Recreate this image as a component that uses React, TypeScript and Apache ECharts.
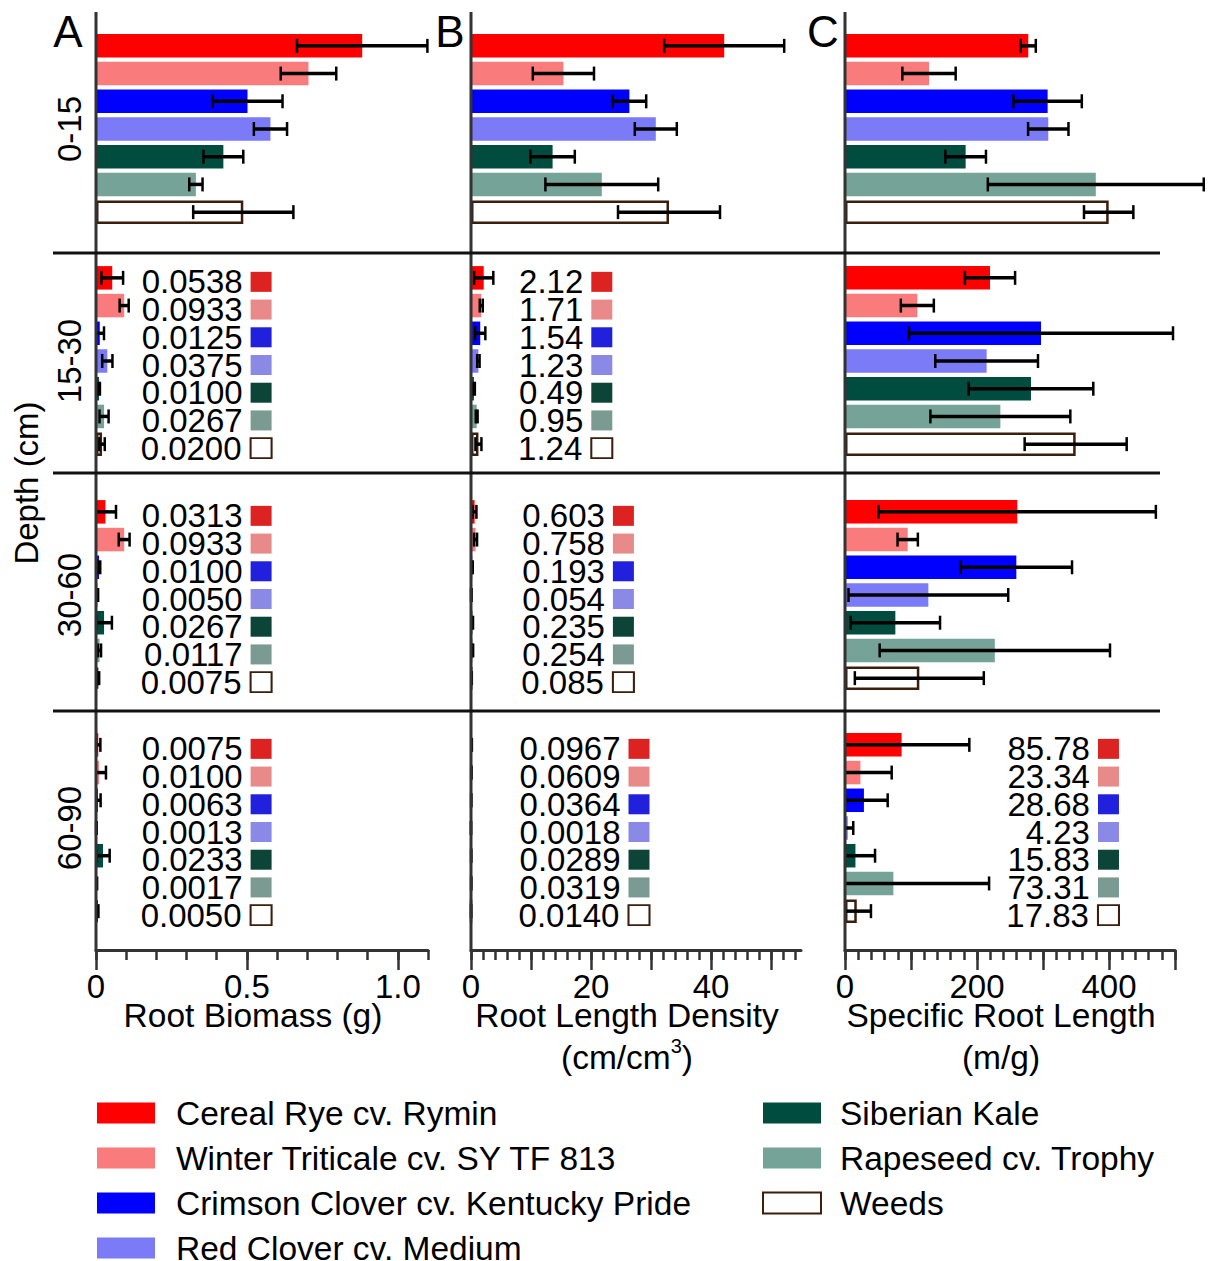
import React, { useEffect, useRef } from "react";
import * as echarts from "echarts";

const FONT = "'Liberation Sans', Arial, Helvetica, sans-serif";

// ---- categories ----
const crops = [
  "Cereal Rye cv. Rymin",
  "Winter Triticale cv. SY TF 813",
  "Crimson Clover cv. Kentucky Pride",
  "Red Clover cv. Medium",
  "Siberian Kale",
  "Rapeseed cv. Trophy",
  "Weeds",
];
const depths = ["0-15", "15-30", "30-60", "60-90"];

// ---- colours ----
const barColors = ["#ff0000", "#fa7b7b", "#0000ff", "#7b7bf8", "#004c3f", "#75a397", "#ffffff"];
const swatchColors = ["#dd2222", "#e88a8a", "#2020dd", "#8a8ae6", "#0c4538", "#7b9a91", "#ffffff"];
const weedsBorder = "#3b1e0c";

// ---- A: Root Biomass (g), mean and SE ----
const rb_0_15 = [0.882, 0.704, 0.502, 0.578, 0.422, 0.331, 0.488];
const rb_0_15_se = [0.216, 0.092, 0.116, 0.055, 0.066, 0.022, 0.166];
const rb_15_30 = [0.0538, 0.0933, 0.0125, 0.0375, 0.01, 0.0267, 0.02];
const rb_15_30_se = [0.036, 0.015, 0.014, 0.017, 0.003, 0.015, 0.009];
const rb_30_60 = [0.0313, 0.0933, 0.01, 0.005, 0.0267, 0.0117, 0.0075];
const rb_30_60_se = [0.035, 0.018, 0.004, 0.002, 0.026, 0.005, 0.003];
const rb_60_90 = [0.0075, 0.01, 0.0063, 0.0013, 0.0233, 0.0017, 0.005];
const rb_60_90_se = [0.007, 0.023, 0.009, 0.001, 0.022, 0.002, 0.003];

// ---- B: Root Length Density (cm/cm3) ----
const rld_0_15 = [42.2, 15.4, 26.4, 30.8, 13.6, 21.8, 33.0];
const rld_0_15_se = [10.0, 5.1, 2.8, 3.5, 3.7, 9.4, 8.5];
const rld_15_30 = [2.12, 1.71, 1.54, 1.23, 0.49, 0.95, 1.24];
const rld_15_30_se = [1.6, 0.25, 0.85, 0.2, 0.15, 0.15, 0.5];
const rld_30_60 = [0.603, 0.758, 0.193, 0.054, 0.235, 0.254, 0.085];
const rld_30_60_se = [0.3, 0.25, 0.1, 0.05, 0.1, 0.1, 0.05];
const rld_60_90 = [0.0967, 0.0609, 0.0364, 0.0018, 0.0289, 0.0319, 0.014];
const rld_60_90_se = [0.05, 0.03, 0.02, 0.001, 0.02, 0.02, 0.01];

// ---- C: Specific Root Length (m/g) ----
const srl_0_15 = [277.7, 127.3, 307.0, 308.0, 182.8, 380.0, 399.5];
const srl_0_15_se = [11.4, 40.4, 51.8, 30.6, 30.8, 163.6, 37.4];
const srl_15_30 = [219.7, 109.6, 297.0, 214.6, 281.8, 235.4, 349.5];
const srl_15_30_se = [38, 25, 200, 77.8, 94.4, 106, 77.3];
const srl_30_60 = [261, 95, 259.6, 126.3, 76.3, 227, 112.6];
const srl_30_60_se = [210, 15.4, 84.4, 121, 67.7, 174.5, 97.7];
const srl_60_90 = [85.78, 23.34, 28.68, 4.23, 15.83, 73.31, 17.83];
const srl_60_90_se = [102.6, 47.4, 36, 8.3, 29.7, 145, 21.5];

// ---- axis ticks ----
const rbLabels = [0, 0.5, 1.0];
const rbMajor = [0, 0.5, 1.0];
const rbMinor = [0, 0.1, 0.2, 0.3, 0.4, 0.5, 0.6, 0.7, 0.8, 0.9, 1.0, 1.1];
const rldLabels = [0, 20, 40];
const rldMajor = [0, 10, 20, 30, 40, 50];
const rldMinor = Array.from({ length: 28 }, (_, k) => k * 2);
const srlLabels = [0, 200, 400];
const srlMajor = [0, 100, 200, 300, 400, 500];
const srlMinor = Array.from({ length: 26 }, (_, k) => k * 20);

const columns = [
  { left: 96, width: 332, max: 1.1, labels: rbLabels, major: rbMajor, minor: rbMinor,
    fmt: (v: number) => (v === 0 ? "0" : v.toFixed(1)), name: "Root Biomass (g)" },
  { left: 471, width: 330, max: 55, labels: rldLabels, major: rldMajor, minor: rldMinor,
    fmt: (v: number) => String(v), name: "Root Length Density\n(cm/cm{sup|3})" },
  { left: 845, width: 330, max: 500, labels: srlLabels, major: srlMajor, minor: srlMinor,
    fmt: (v: number) => String(v), name: "Specific Root Length\n(m/g)" },
];
const rowTops = [32, 264, 498, 731];
const GRID_H = 194;

type Panel = { values: number[]; se: number[]; digits?: number; labelX?: number };
// row-major: row 0 (A,B,C), row 1 ...
const panels: Panel[] = [
  { values: rb_0_15, se: rb_0_15_se },
  { values: rld_0_15, se: rld_0_15_se },
  { values: srl_0_15, se: srl_0_15_se },
  { values: rb_15_30, se: rb_15_30_se, digits: 4, labelX: 0.547 },
  { values: rld_15_30, se: rld_15_30_se, digits: 2, labelX: 21.8 },
  { values: srl_15_30, se: srl_15_30_se },
  { values: rb_30_60, se: rb_30_60_se, digits: 4, labelX: 0.547 },
  { values: rld_30_60, se: rld_30_60_se, digits: 3, labelX: 25.4 },
  { values: srl_30_60, se: srl_30_60_se },
  { values: rb_60_90, se: rb_60_90_se, digits: 4, labelX: 0.547 },
  { values: rld_60_90, se: rld_60_90_se, digits: 4, labelX: 28.0 },
  { values: srl_60_90, se: srl_60_90_se, digits: 2, labelX: 399.2 },
];

function buildOption() {
  const grid: any[] = [];
  const xAxis: any[] = [];
  const yAxis: any[] = [];
  const series: any[] = [];

  panels.forEach((p, g) => {
    const row = Math.floor(g / 3);
    const col = g % 3;
    const c = columns[col];
    grid.push({ left: c.left, width: c.width, top: rowTops[row], height: GRID_H });

    if (row === 3) {
      xAxis.push({
        gridIndex: g, type: "value", min: 0, max: c.max, position: "bottom", offset: 25,
        axisLine: { show: true, lineStyle: { color: "#333", width: 3 } },
        axisTick: { show: true, customValues: c.minor, length: 10, lineStyle: { color: "#333", width: 2.5 } },
        axisLabel: { show: true, customValues: c.labels, formatter: c.fmt, margin: 20,
          fontSize: 33, color: "#000", fontFamily: FONT },
        splitLine: { show: false },
        name: c.name, nameLocation: "middle", nameGap: 44, nameMoveOverlap: false,
        nameTextStyle: {
          fontSize: 33.5, color: "#000", fontFamily: FONT, lineHeight: 42, padding: [0, 18, 0, 0],
          rich: { sup: { fontSize: 20, fontFamily: FONT, color: "#000", verticalAlign: "top", lineHeight: 24 } },
        },
      });
    } else {
      xAxis.push({ gridIndex: g, type: "value", min: 0, max: c.max, show: false, splitLine: { show: false } });
    }

    yAxis.push({
      gridIndex: g, type: "category", data: crops, inverse: true,
      axisLine: { show: false }, axisTick: { show: false }, axisLabel: { show: false }, splitLine: { show: false },
      name: col === 0 ? depths[row] : "", nameLocation: "middle", nameRotate: 90, nameGap: 10,
      nameMoveOverlap: false,
      nameTextStyle: { fontSize: 33, color: "#000", fontFamily: FONT },
    });

    crops.forEach((name, i) => {
      series.push({
        type: "bar", name, xAxisIndex: g, yAxisIndex: g, barWidth: 23.5, barGap: "-100%", silent: true,
        data: p.values.map((v, j) => (j === i ? v : "-")),
        itemStyle: {
          color: barColors[i],
          borderColor: i === 6 ? weedsBorder : barColors[i],
          borderWidth: i === 6 ? 2.5 : 0,
        },
      });
    });

    series.push({
      type: "custom", xAxisIndex: g, yAxisIndex: g, silent: true, clip: false, z: 5,
      data: p.values.map((v, i) => [v, p.se[i], i]),
      encode: { x: 0, y: 2 },
      renderItem: (params: any, api: any) => {
        const v = api.value(0) as number;
        const e = api.value(1) as number;
        const i = params.dataIndex;
        const lowV = v - e;
        const lo = api.coord([Math.max(0, lowV), i]);
        const hi = api.coord([v + e, i]);
        const y = lo[1];
        const cap = 7;
        const children: any[] = [
          { type: "line", shape: { x1: lo[0], y1: y, x2: hi[0], y2: y }, style: { stroke: "#000", lineWidth: 3.5 } },
          { type: "line", shape: { x1: hi[0], y1: y - cap, x2: hi[0], y2: y + cap }, style: { stroke: "#000", lineWidth: 2.5 } },
        ];
        if (lowV >= 0) {
          children.push({ type: "line", shape: { x1: lo[0], y1: y - cap, x2: lo[0], y2: y + cap }, style: { stroke: "#000", lineWidth: 2.5 } });
        }
        return { type: "group", children };
      },
    });

    if (p.labelX != null) {
      series.push({
        type: "scatter", xAxisIndex: g, yAxisIndex: g, silent: true, symbol: "rect",
        symbolSize: [21, 20], symbolOffset: [0, 4], z: 6,
        data: p.values.map((v, i) => ({
          value: [p.labelX, i],
          itemStyle: {
            color: swatchColors[i],
            borderColor: i === 6 ? weedsBorder : swatchColors[i],
            borderWidth: i === 6 ? 2 : 0,
            opacity: 1,
          },
          label: { formatter: v.toFixed(p.digits as number) },
        })),
        itemStyle: { opacity: 1 },
        label: { show: true, position: "left", distance: 8, fontSize: 33, lineHeight: 26, color: "#000", fontFamily: FONT },
      });
    }
  });

  // long (major) ticks on the bottom axes
  [9, 10, 11].forEach((g) => {
    const c = columns[g % 3];
    xAxis.push({
      gridIndex: g, type: "value", min: 0, max: c.max, position: "bottom", offset: 25,
      axisLine: { show: false },
      axisTick: { show: true, customValues: c.major, length: 20, lineStyle: { color: "#333", width: 2.5 } },
      axisLabel: { show: false }, splitLine: { show: false },
    });
  });

  const legendBase = {
    orient: "vertical", padding: 0, itemWidth: 58, itemHeight: 21, itemGap: 11, icon: "rect",
    selectedMode: false, top: 1096, height: 200,
  };

  const graphic: any[] = [
    ...[96, 471, 845].map((x) => ({
      type: "line", z: 100, shape: { x1: x, y1: 12, x2: x, y2: 951.5 }, style: { stroke: "#333", lineWidth: 3 },
    })),
    ...[253, 473, 711].map((y) => ({
      type: "line", z: 100, shape: { x1: 53, y1: y, x2: 1160, y2: y }, style: { stroke: "#111", lineWidth: 3 },
    })),
    ...[["A", 68], ["B", 450], ["C", 823]].map(([t, x]) => ({
      type: "text", z: 100, x, y: 31,
      style: { text: t, fontSize: 44, fontFamily: FONT, fill: "#000", align: "center", verticalAlign: "middle" },
    })),
    {
      type: "text", z: 100, x: 26, y: 483, rotation: Math.PI / 2,
      style: { text: "Depth (cm)", fontSize: 33, fontFamily: FONT, fill: "#000", align: "center", verticalAlign: "middle" },
    },
  ];

  return {
    animation: false,
    backgroundColor: "#ffffff",
    textStyle: { fontFamily: FONT },
    grid,
    xAxis,
    yAxis,
    series,
    legend: [
      { ...legendBase, left: 97, data: crops.slice(0, 4),
        textStyle: { fontSize: 33.5, color: "#000", fontFamily: FONT, padding: [0, 0, 0, 16] } },
      { ...legendBase, left: 762, data: crops.slice(4),
        textStyle: { fontSize: 33.5, color: "#000", fontFamily: FONT, padding: [0, 0, 0, 14] } },
    ],
    graphic,
  };
}

export default function App() {
  const ref = useRef<HTMLDivElement>(null);
  useEffect(() => {
    document.body.style.margin = "0";
    if (!ref.current) return;
    const chart = echarts.init(ref.current, undefined, { renderer: "svg" });
    chart.setOption(buildOption() as any);
    return () => chart.dispose();
  }, []);
  return (
    <div
      ref={ref}
      style={{ width: 1210, height: 1261, position: "absolute", left: 0, top: 0, background: "#fff" }}
    />
  );
}
